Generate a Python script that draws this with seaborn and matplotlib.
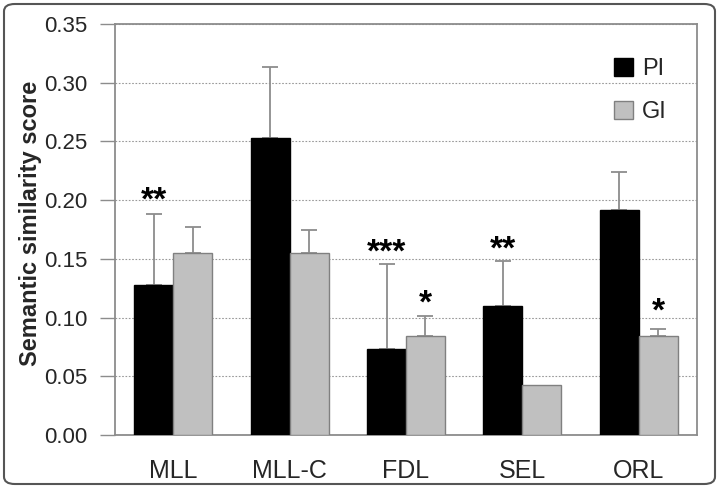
"""Semantic similarity score per lexicon, PI vs GI."""

import matplotlib.pyplot as plt
import pandas as pd
import seaborn as sns
from matplotlib.patches import FancyBboxPatch, Patch

# Data
categories = ["MLL", "MLL-C", "FDL", "SEL", "ORL"]
pi_mean = [0.128, 0.253, 0.073, 0.110, 0.192]
pi_err = [0.060, 0.060, 0.073, 0.038, 0.032]
gi_mean = [0.155, 0.155, 0.084, 0.043, 0.084]
gi_err = [0.022, 0.020, 0.017, 0.0, 0.006]

# significance marks: (category, group, label, y of mark centre)
marks = [
    ("MLL", "PI", "**", 0.206),
    ("FDL", "PI", "***", 0.161),
    ("FDL", "GI", "*", 0.118),
    ("SEL", "PI", "**", 0.164),
    ("ORL", "GI", "*", 0.111),
]

yticks = [0.00, 0.05, 0.10, 0.15, 0.20, 0.25, 0.30, 0.35]

# Build long table
df = pd.DataFrame(
    {
        "category": categories * 2,
        "group": ["PI"] * len(categories) + ["GI"] * len(categories),
        "score": pi_mean + gi_mean,
        "err": pi_err + gi_err,
    }
)

palette = {"PI": "#000000", "GI": "#c0c0c0"}
edges = {"PI": "#000000", "GI": "#808080"}

sns.set_style("white")
plt.rcParams["font.family"] = ["Liberation Sans", "DejaVu Sans"]

fig = plt.figure(figsize=(7.19, 4.88), dpi=100)
ax = fig.add_axes([115 / 719, 53 / 488, 582 / 719, 411 / 488])

sns.barplot(
    data=df,
    x="category",
    y="score",
    hue="group",
    hue_order=["PI", "GI"],
    order=categories,
    palette=palette,
    width=0.67,
    errorbar=None,
    legend=False,
    ax=ax,
    zorder=3,
)

# Edge colours and upward-only error bars
for container, grp in zip(ax.containers, ["PI", "GI"]):
    sub = df[df["group"] == grp].set_index("category").loc[categories]
    for bar, err in zip(container, sub["err"]):
        bar.set_edgecolor(edges[grp])
        bar.set_linewidth(1.0)
        if err > 0:
            xc = bar.get_x() + bar.get_width() / 2
            ax.errorbar(
                xc,
                bar.get_height(),
                yerr=[[0], [err]],
                fmt="none",
                ecolor="#8c8c8c",
                elinewidth=1.3,
                capsize=6,
                capthick=1.3,
                zorder=2,
            )

# Significance asterisks (glyph sits high, so shift baseline down)
group_idx = {"PI": 0, "GI": 1}
for cat, grp, label, y in marks:
    bar = ax.containers[group_idx[grp]][categories.index(cat)]
    xc = bar.get_x() + bar.get_width() / 2
    ax.annotate(label, (xc, y), xytext=(0, -11.5), textcoords="offset points",
                ha="center", va="baseline", fontsize=24, fontweight="bold",
                color="black")

ax.set_ylim(0, 0.35)
ax.set_yticks(yticks)
ax.set_yticklabels([f"{t:.2f}" for t in yticks])
ax.set_xlim(-0.5, len(categories) - 0.5)

ax.yaxis.grid(True, linestyle=(0, (1.5, 1.5)), color="#999999", linewidth=0.8)
ax.set_axisbelow(True)

for side in ["left", "right", "top", "bottom"]:
    ax.spines[side].set_color("#8c8c8c")
    ax.spines[side].set_linewidth(1.3)

ax.tick_params(axis="y", which="both", left=True, length=11, width=1,
               color="#8c8c8c", labelsize=16, pad=9)
ax.tick_params(axis="x", bottom=False, labelsize=18, pad=14)

ax.set_xlabel("")
ax.set_ylabel("Semantic similarity score", fontsize=17, fontweight="bold")
ax.yaxis.set_label_coords(-0.125, 0.515)

handles = [
    Patch(facecolor=palette["PI"], edgecolor=edges["PI"], label="PI"),
    Patch(facecolor=palette["GI"], edgecolor=edges["GI"], label="GI"),
]
ax.legend(
    handles=handles,
    loc="upper right",
    bbox_to_anchor=(0.985, 0.97),
    frameon=False,
    fontsize=17,
    handlelength=0.8,
    handleheight=0.8,
    handletextpad=0.4,
    labelspacing=0.9,
)

# Rounded outer frame
frame = FancyBboxPatch(
    (4 / 719, 4 / 488),
    711 / 719,
    480 / 488,
    boxstyle="round,pad=0,rounding_size=0.015",
    transform=fig.transFigure,
    facecolor="none",
    edgecolor="#555555",
    linewidth=1.5,
)
fig.patches.append(frame)

fig.savefig("out.png", dpi=100)
plt.close(fig)
